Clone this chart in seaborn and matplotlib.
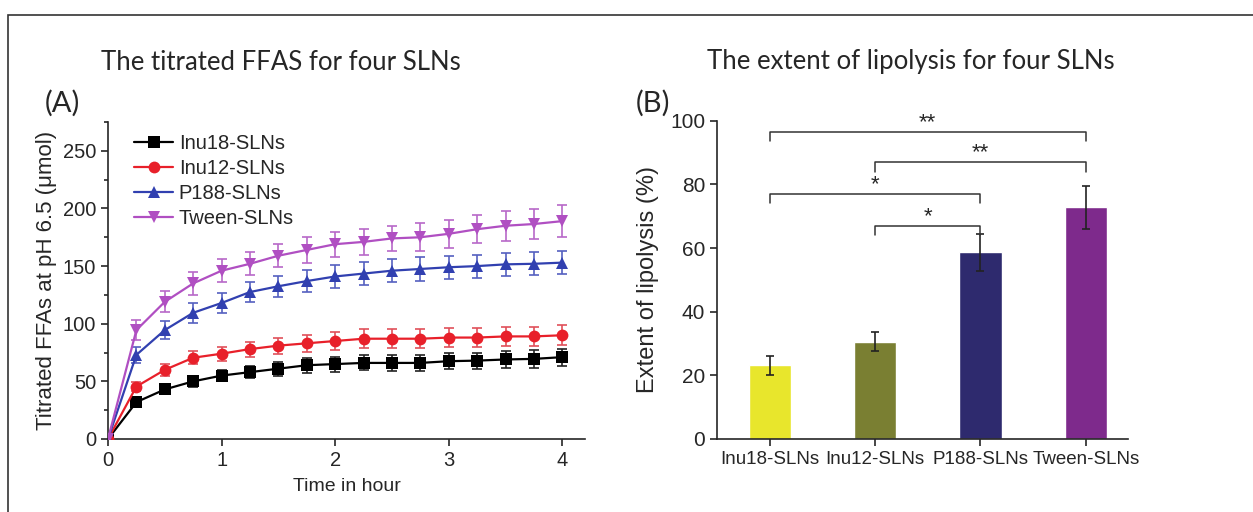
import numpy as np
import pandas as pd
import matplotlib
matplotlib.use('Agg')
import matplotlib.pyplot as plt
import seaborn as sns
from matplotlib.ticker import MultipleLocator
from matplotlib.patches import Rectangle

# datos panel A: FFAs titulados vs tiempo
tiempo = [0, 0.25, 0.5, 0.75, 1, 1.25, 1.5, 1.75, 2, 2.25, 2.5, 2.75, 3, 3.25, 3.5, 3.75, 4]
inu18 = [0, 32, 43, 50, 55, 58, 61, 64, 65, 66, 66, 66, 67.5, 68, 69, 69.5, 71]
inu12 = [0, 45.5, 60, 70.5, 74, 78, 81, 83, 85, 87, 87, 87, 88, 88, 89, 89, 90]
p188 = [0, 73, 94.5, 109.5, 118, 127.5, 132.5, 137, 141, 143.5, 146, 147.5, 149, 150, 151.5, 152, 153]
tween = [0, 94.5, 119, 135, 146, 152, 159, 164, 169, 171, 174, 175, 178, 182, 185, 186.5, 189]
err_inu18 = [0, 3, 4, 4.5, 5, 5.5, 6, 6.5, 6.5, 6.5, 7, 7, 7, 7, 7.5, 7.5, 7.5]
err_inu12 = [0, 4, 5, 5.5, 6, 6.5, 7, 7.5, 7.5, 8, 8, 8, 8, 8, 8.5, 8.5, 8.5]
err_p188 = [0, 7, 8, 8.5, 9, 9, 9, 9.5, 10, 10, 10, 10, 10, 10, 10, 10, 10]
err_tween = [0, 9, 9, 10, 10, 10, 10, 11, 11, 11, 11, 12, 12, 12, 13, 13, 14]

# datos panel B: extensión de lipólisis
formulaciones = ['Inu18-SLNs', 'Inu12-SLNs', 'P188-SLNs', 'Tween-SLNs']
lipolisis = [23.2, 30.6, 58.6, 72.8]
err_lipolisis = [3.0, 3.0, 5.7, 6.7]
# comparaciones significativas (i, j, altura, etiqueta)
comparaciones = [(0, 3, 96.5, '**'), (1, 3, 87, '**'), (0, 2, 77, '*'), (1, 2, 67, '*')]

series = {'Inu18-SLNs': (inu18, err_inu18), 'Inu12-SLNs': (inu12, err_inu12),
          'P188-SLNs': (p188, err_p188), 'Tween-SLNs': (tween, err_tween)}
colores_lineas = {'Inu18-SLNs': '#000000', 'Inu12-SLNs': '#E8202A',
                  'P188-SLNs': '#3140B0', 'Tween-SLNs': '#B04FC2'}
colores_err = {'Inu18-SLNs': '#222222', 'Inu12-SLNs': '#E0505A',
               'P188-SLNs': '#5560C0', 'Tween-SLNs': '#B868C8'}
marcadores = {'Inu18-SLNs': 's', 'Inu12-SLNs': 'o', 'P188-SLNs': '^', 'Tween-SLNs': 'v'}
colores_barras = ['#E8E62C', '#7A7F32', '#2E2A6E', '#7E2A8C']

rows = []
for nombre, (vals, errs) in series.items():
    for t, v, e in zip(tiempo, vals, errs):
        rows.append({'tiempo': t, 'valor': v, 'err': e, 'serie': nombre})
df = pd.DataFrame(rows)

sns.set_style('ticks')
plt.rcParams['font.family'] = ['Liberation Sans', 'DejaVu Sans']
fuente_titulo = ['Lato', 'DejaVu Sans']

fig = plt.figure(figsize=(12.53, 5.12), dpi=100)
W, H = 1253, 512

# marco del panel
fig.patches.append(Rectangle((8 / W, -0.1), 1.2, (512 - 15) / H + 0.1, transform=fig.transFigure,
                             fill=False, edgecolor='#333333', linewidth=1.2))

# ---- Panel A ----
axA = fig.add_axes([108 / W, 73 / H, (585 - 108) / W, (439 - 122) / H])
for nombre in series:
    d = df[df['serie'] == nombre]
    axA.errorbar(d['tiempo'], d['valor'], yerr=d['err'], fmt='none', ecolor=colores_err[nombre],
                 elinewidth=1.2, capsize=3.5, capthick=1.2, zorder=2)
sns.lineplot(data=df, x='tiempo', y='valor', hue='serie', style='serie',
             palette=colores_lineas, markers=marcadores, dashes=False, markersize=8.5,
             markeredgewidth=0, linewidth=1.6, ax=axA, zorder=3)
axA.set_xlim(0, 4.2)
axA.set_ylim(0, 275)
axA.xaxis.set_major_locator(MultipleLocator(1))
axA.yaxis.set_major_locator(MultipleLocator(50))
axA.yaxis.set_minor_locator(MultipleLocator(25))
axA.tick_params(axis='both', which='major', labelsize=14.5, length=5, width=1.2, direction='out')
axA.tick_params(axis='y', which='minor', length=3, width=1.2)
axA.set_xlabel('Time in hour', fontsize=14, labelpad=6)
axA.set_ylabel('Titrated FFAs at pH 6.5 (μmol)', fontsize=16, labelpad=4)
for s in ['left', 'bottom']:
    axA.spines[s].set_linewidth(1.2)
sns.despine(ax=axA)
leg = axA.legend(loc='upper left', bbox_to_anchor=(0.03, 1.0), frameon=False, fontsize=14.5,
                 handlelength=1.9, labelspacing=0.3, handletextpad=0.3, borderaxespad=0.2)
fig.text(281 / W, 1 - 62 / H, 'The titrated FFAS for four SLNs', fontsize=18.5, family=fuente_titulo,
         ha='center', va='center')
fig.text(45 / W, 1 - 103 / H, '(A)', fontsize=21, family=fuente_titulo, va='center')

# ---- Panel B ----
axB = fig.add_axes([717 / W, 73 / H, (1128 - 717) / W, (439 - 120.7) / H])
dfb = pd.DataFrame({'formulacion': formulaciones, 'lipolisis': lipolisis})
sns.barplot(data=dfb, x='formulacion', y='lipolisis', hue='formulacion', palette=colores_barras,
            width=0.4, legend=False, ax=axB, saturation=1)
axB.errorbar(range(len(formulaciones)), lipolisis, yerr=err_lipolisis, fmt='none', ecolor='#222222',
             elinewidth=1.2, capsize=3, capthick=1.2)
for i, j, y, etiqueta in comparaciones:
    axB.plot([i, i, j, j], [y - 3, y, y, y - 3], color='#333333', linewidth=1.1)
    axB.text((i + j) / 2, y - 0.3, etiqueta, ha='center', va='bottom', fontsize=16)
axB.set_xlim(-0.5, 3.4)
axB.set_ylim(0, 100)
axB.yaxis.set_major_locator(MultipleLocator(20))
axB.tick_params(axis='y', which='major', labelsize=15, length=5, width=1.2, direction='out')
axB.tick_params(axis='x', which='major', labelsize=13.5, length=5, width=1.2, direction='out')
axB.set_xlabel('')
axB.set_ylabel('Extent of lipolysis (%)', fontsize=17, labelpad=8)
for s in ['left', 'bottom']:
    axB.spines[s].set_linewidth(1.2)
sns.despine(ax=axB)
fig.text(911 / W, 1 - 62 / H, 'The extent of lipolysis for four SLNs', fontsize=18.5,
         family=fuente_titulo, ha='center', va='center')
fig.text(636 / W, 1 - 103 / H, '(B)', fontsize=21, family=fuente_titulo, va='center')

fig.savefig('out.png', dpi=100)
